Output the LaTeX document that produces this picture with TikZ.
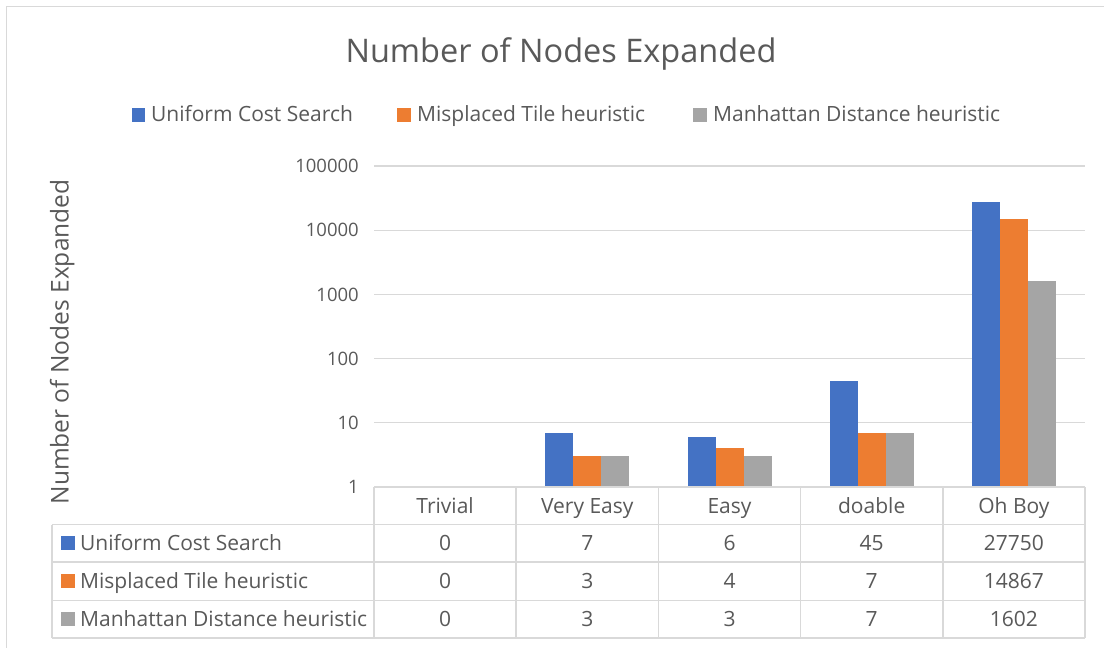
\documentclass[tikz,border=0pt]{standalone}
\usepackage{fontspec}
\setmainfont{Open Sans}
\definecolor{cucs}{HTML}{4472C4}
\definecolor{cmt}{HTML}{ED7D31}
\definecolor{cmd}{HTML}{A5A5A5}
\definecolor{txt}{HTML}{595959}
\definecolor{grid}{HTML}{D9D9D9}
\definecolor{frame}{HTML}{D9D9D9}
\tikzset{
  gridline/.style={draw=grid, line width=1.3pt},
  tabline/.style={draw=grid, line width=1.6pt},
  framebox/.style={draw=frame, line width=1pt},
  ticklab/.style={text=txt, anchor=east, inner sep=0pt, font=\fontsize{18.5}{22}\selectfont},
  legtext/.style={text=txt, anchor=base west, inner sep=0pt, font=\fontsize{21}{25}\selectfont},
  cell/.style={text=txt, anchor=base, inner sep=0pt, font=\fontsize{21}{25}\selectfont},
  keybox/.style={minimum size=13.5pt, inner sep=0pt, draw=none},
  bar/.style={draw=none},
}
% #1 center, #2..#4 = log10 of values
\newcommand{\drawbars}[4]{%
  \fill[bar, cucs] ({#1-42},487) rectangle ({#1-14},{487-64.2*#2});
  \fill[bar, cmt] ({#1-14},487) rectangle ({#1+14},{487-64.2*#3});
  \fill[bar, cmd] ({#1+14},487) rectangle ({#1+42},{487-64.2*#4});
}
\begin{document}
\begin{tikzpicture}[x=1pt,y=-1pt]
\useasboundingbox (0,0) rectangle (1104,648);
\fill[white] (0,0) rectangle (1104,648);
% frame
\draw[framebox] (6.5,648) -- (6.5,6.5) -- (1104,6.5);
% title
\node[text=txt, anchor=base, inner sep=0pt, font=\fontsize{32.5}{38}\selectfont] (title) at (561,62) {Number of Nodes Expanded};
% legend
\node[keybox, fill=cucs] (lk1) at (138.5,115) {};
\node[legtext] (lt1) at (151,121.5) {Uniform Cost Search};
\node[keybox, fill=cmt] (lk2) at (404,115) {};
\node[legtext] (lt2) at (417,121.5) {Misplaced Tile heuristic};
\node[keybox, fill=cmd] (lk3) at (700,115) {};
\node[legtext] (lt3) at (713,121.5) {Manhattan Distance heuristic};
% axis title
\node[text=txt, anchor=base, inner sep=0pt, rotate=90, font=\fontsize{24.5}{29}\selectfont] (ytitle) at (68.5,342) {Number of Nodes Expanded};
% gridlines and tick labels
\foreach \k/\lab in {1/10,2/100,3/1000,4/10000,5/100000}{
  \draw[gridline] (374,{487-64.2*\k}) -- (1085,{487-64.2*\k});
  \node[ticklab] (tick\k) at (359,{487-64.2*\k}) {\lab};
}
\node[ticklab] (tick0) at (359,487) {1};
% bars
\drawbars{587.3}{0.8451}{0.4771}{0.4771}
\drawbars{729.5}{0.7782}{0.6021}{0.4771}
\drawbars{871.7}{1.6532}{0.8451}{0.8451}
\drawbars{1013.9}{4.4433}{4.1722}{3.2047}
% table lines
\draw[tabline] (374,487) -- (1085,487);
\draw[tabline] (52,524.5) -- (1085,524.5);
\draw[tabline] (52,562) -- (1085,562);
\draw[tabline] (52,600.5) -- (1085,600.5);
\draw[tabline] (52,638) -- (1085,638);
\draw[tabline] (52,524.5) -- (52,638);
\foreach \i in {0,...,5}{
  \draw[tabline] ({374+142.2*\i},487) -- ({374+142.2*\i},638);
}
% header
\foreach \i/\c in {0/Trivial,1/Very Easy,2/Easy,3/doable,4/Oh Boy}{
  \node[cell] (h\i) at ({445.1+142.2*\i},513.5) {\c};
}
% row labels
\node[keybox, fill=cucs] (rk1) at (68,543) {};
\node[legtext] (rl1) at (80,550) {Uniform Cost Search};
\node[keybox, fill=cmt] (rk2) at (68,581) {};
\node[legtext] (rl2) at (80,588) {Misplaced Tile heuristic};
\node[keybox, fill=cmd] (rk3) at (68,619) {};
\node[legtext] (rl3) at (80,626) {Manhattan Distance heuristic};
% values
\foreach \i/\v in {0/0,1/7,2/6,3/45,4/27750}{
  \node[cell] (a\i) at ({445.1+142.2*\i},550) {\v};
}
\foreach \i/\v in {0/0,1/3,2/4,3/7,4/14867}{
  \node[cell] (b\i) at ({445.1+142.2*\i},588) {\v};
}
\foreach \i/\v in {0/0,1/3,2/3,3/7,4/1602}{
  \node[cell] (c\i) at ({445.1+142.2*\i},626) {\v};
}
\end{tikzpicture}
\end{document}
